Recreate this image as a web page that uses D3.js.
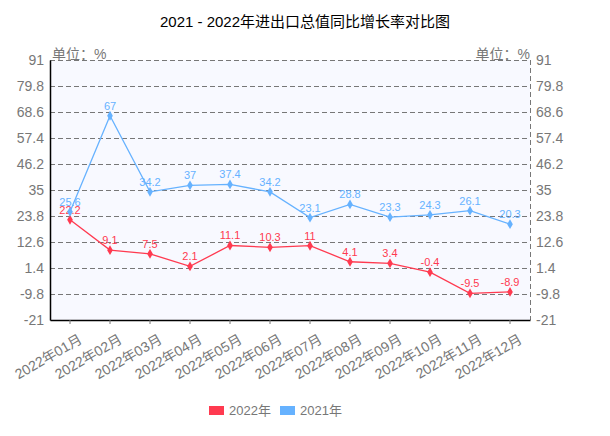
<!DOCTYPE html>
<html><head><meta charset="utf-8">
<script src="https://cdn.jsdelivr.net/npm/d3@7/dist/d3.min.js"></script>
<style>body{margin:0;background:#fff;} text{font-family:"Liberation Sans","DejaVu Sans","Noto Sans CJK SC",sans-serif;}</style>
</head><body><svg id="c" width="610" height="436"></svg>
<script>
const categories = ["2022年01月","2022年02月","2022年03月","2022年04月","2022年05月","2022年06月","2022年07月","2022年08月","2022年09月","2022年10月","2022年11月","2022年12月"];
const values2022 = [22.2, 9.1, 7.5, 2.1, 11.1, 10.3, 11, 4.1, 3.4, -0.4, -9.5, -8.9];
const values2021 = [25.6, 67, 34.2, 37, 37.4, 34.2, 23.1, 28.8, 23.3, 24.3, 26.1, 20.3];
const yTicks = [-21, -9.8, 1.4, 12.6, 23.8, 35, 46.2, 57.4, 68.6, 79.8, 91];
const seriesNames = ["2022年", "2021年"];
const colors = ["#ff3a50", "#66b2ff"];

const svg = d3.select("#c");
const L = 50, R = 530, T = 60, B = 320;
const x = d3.scaleBand().domain(categories).range([L, R]);
const y = d3.scaleLinear().domain([-21, 91]).range([B, T]);
const gray = "#777";

svg.append("text").attr("x", 305).attr("y", 27).attr("text-anchor", "middle")
  .attr("font-size", 15).attr("fill", "#000").text("2021 - 2022年进出口总值同比增长率对比图");

svg.append("rect").attr("x", L).attr("y", T).attr("width", R - L).attr("height", B - T).attr("fill", "#f8f9ff");

// grid
svg.append("g").selectAll("line").data(yTicks.filter(v => v !== -21)).join("line")
  .attr("x1", L).attr("x2", R).attr("y1", d => Math.round(y(d)) + 0.5).attr("y2", d => Math.round(y(d)) + 0.5)
  .attr("stroke", gray).attr("stroke-dasharray", "5,3");
// right dashed axis
svg.append("line").attr("x1", R + 0.5).attr("x2", R + 0.5).attr("y1", T).attr("y2", B)
  .attr("stroke", gray).attr("stroke-dasharray", "5,3");

// left axis
const yl = svg.append("g").attr("transform", `translate(${L},0)`)
  .call(d3.axisLeft(y).tickValues(yTicks).tickSize(0).tickPadding(6).tickFormat(d => String(d)));
yl.select(".domain").attr("stroke", "#000").attr("stroke-width", 1.5);
yl.selectAll("text").attr("fill", gray).attr("font-size", 14).attr("font-family", "Liberation Sans, sans-serif");
const yr = svg.append("g").attr("transform", `translate(${R},0)`)
  .call(d3.axisRight(y).tickValues(yTicks).tickSize(0).tickPadding(6).tickFormat(d => String(d)));
yr.select(".domain").remove();
yr.selectAll("text").attr("fill", gray).attr("font-size", 14).attr("font-family", "Liberation Sans, sans-serif");

svg.append("text").attr("x", 52).attr("y", 59).attr("font-size", 14).attr("fill", gray).text("单位：%");
svg.append("text").attr("x", 530).attr("y", 59).attr("text-anchor", "end").attr("font-size", 14).attr("fill", gray).text("单位：%");

// bottom axis
const xa = svg.append("g").attr("transform", `translate(0,${B})`)
  .call(d3.axisBottom(x).tickSize(4).tickSizeOuter(0).tickPadding(4));
xa.select(".domain").attr("stroke", "#000").attr("stroke-width", 1.5);
xa.selectAll(".tick line").attr("stroke", gray);
xa.selectAll("text").attr("fill", gray).attr("font-size", 14)
  .attr("text-anchor", "end").attr("dy", "0.6em")
  .attr("transform", "translate(5,8) rotate(-30)");

const cx = d => x(d) + x.bandwidth() / 2;
[values2022, values2021].forEach((vals, i) => {
  const data = categories.map((c, j) => ({c, v: vals[j]}));
  const g = svg.append("g");
  g.append("path").datum(data)
    .attr("d", d3.line().x(d => cx(d.c)).y(d => y(d.v)))
    .attr("fill", "none").attr("stroke", colors[i]).attr("stroke-width", 1.3);
  g.selectAll("path.m").data(data).join("path").attr("class", "m")
    .attr("transform", d => `translate(${cx(d.c)},${y(d.v)})`)
    .attr("d", d3.symbol(d3.symbolDiamond, 28)).attr("fill", colors[i]);
  g.selectAll("text").data(data).join("text")
    .attr("x", d => cx(d.c)).attr("y", d => y(d.v) - 6).attr("text-anchor", "middle")
    .attr("font-size", 11).attr("fill", colors[i]).text(d => d.v);
});

// legend
const lg = svg.append("g");
seriesNames.forEach((n, i) => {
  const lx = 209 + i * 71;
  lg.append("rect").attr("x", lx).attr("y", 406).attr("width", 15).attr("height", 9).attr("fill", colors[i]);
  lg.append("text").attr("x", lx + 20).attr("y", 415).attr("font-size", 13).attr("fill", gray).text(n);
});
</script></body></html>
